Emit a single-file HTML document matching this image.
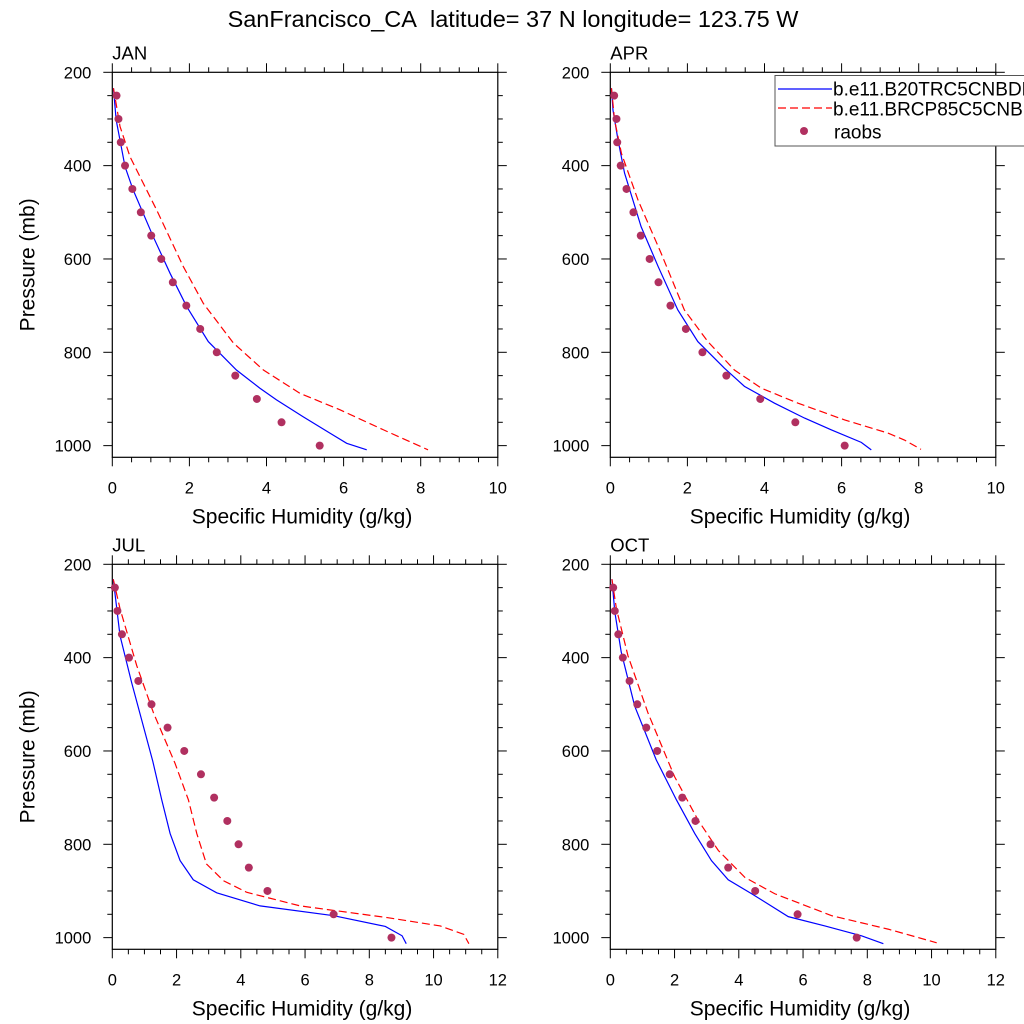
<!DOCTYPE html>
<html><head><meta charset="utf-8"><style>
body{margin:0;background:#fff;width:1024px;height:1024px;overflow:hidden}
svg{display:block;font-family:"Liberation Sans",sans-serif}
</style></head><body>
<svg id="chart" width="1024" height="1024" viewBox="0 0 1024 1024">
<rect width="1024" height="1024" fill="#fff"/>
<text x="513" y="27" font-size="23.5" text-anchor="middle">SanFrancisco_CA&#160; latitude= 37 N longitude= 123.75 W</text>
</svg>
<script>
const levels=[250,300,350,400,450,500,550,600,650,700,750,800,850,900,950,1000];
const janObs=[0.11,0.16,0.22,0.33,0.52,0.74,1.01,1.27,1.57,1.92,2.28,2.71,3.19,3.75,4.39,5.38];
const janBlueQ=[0.03,0.1,0.33,0.54,1.06,1.5,1.93,2.49,3.22,3.83,4.26,4.95,5.64,6.08,6.6];
const janBlueP=[234,302,402,452,552,631,702,777,838,877,902,938,973,995,1009];
const janRedQ=[0.03,0.2,0.46,1.15,1.84,2.36,3.14,3.92,4.87,5.9,7.03,8.19];
const janRedP=[234,316,381,495,616,695,780,838,888,923,966,1009];
const aprObs=[0.1,0.16,0.18,0.27,0.42,0.6,0.79,1.02,1.25,1.56,1.96,2.39,3.01,3.89,4.8,6.08];
const aprBlueQ=[0.03,0.07,0.2,0.37,0.8,1.24,1.75,2.27,2.96,3.48,4.26,5.04,5.73,6.51,6.77];
const aprBlueP=[234,281,345,416,531,616,709,777,834,873,909,941,966,993,1009];
const aprRedQ=[0.03,0.11,0.29,0.72,1.32,1.92,2.53,3.22,3.92,4.87,6.08,7.2,7.63,8.06];
const aprRedP=[234,302,374,474,588,709,777,838,877,909,945,973,988,1008];
const julObs=[0.08,0.16,0.3,0.52,0.81,1.22,1.72,2.24,2.76,3.17,3.58,3.93,4.25,4.83,6.89,8.69];
const julBlueQ=[0.03,0.24,0.6,1.26,1.54,1.8,2.11,2.52,3.25,4.6,6.89,8.5,9.02,9.15];
const julBlueP=[232,353,453,622,705,777,835,876,904,932,953,976,996,1013];
const julRedQ=[0.03,0.24,0.76,1.28,1.95,2.37,2.63,2.93,3.46,4.19,5.85,8.55,10.21,10.94,11.1];
const julRedP=[232,295,417,518,626,705,777,842,878,903,932,957,975,993,1013];
const octObs=[0.09,0.14,0.25,0.39,0.6,0.84,1.12,1.46,1.85,2.24,2.65,3.12,3.67,4.51,5.83,7.67];
const octBlueQ=[0.05,0.14,0.34,0.76,1.43,2.06,2.63,3.15,3.67,4.4,5.54,6.68,7.82,8.5];
const octBlueP=[232,302,388,504,619,705,777,835,876,906,955,975,996,1013];
const octRedQ=[0.05,0.19,0.55,1.17,2.0,2.73,3.36,4.19,5.12,6.89,8.66,10.16];
const octRedP=[232,295,396,518,655,748,813,871,906,953,982,1011];
const yTicks=[200,400,600,800,1000];
const xTicks10=[0,2,4,6,8,10];
const xTicks12=[0,2,4,6,8,10,12];

const NS="http://www.w3.org/2000/svg";
const svg=document.getElementById('chart');
function mk(tag,attrs,parent){const e=document.createElementNS(NS,tag);for(const k in attrs)e.setAttribute(k,attrs[k]);(parent||svg).appendChild(e);return e;}

function panel(name,L,T,xmax,xticks,obs,bq,bp,rq,rp,showY){
  const R=L+385.5,B=T+385;
  const g=mk('g',{});
  
  
  const pmin=200,pmax=1025;
  const xs=v=>L+(R-L)*v/xmax;
  const ys=p=>T+(B-T)*(p-pmin)/(pmax-pmin);
  const fr=mk('rect',{x:L,y:T,width:R-L,height:B-T,fill:'none',stroke:'#000','stroke-width':1.2},g);
  
  
  for(let v=0;v<=xmax+1e-9;v+=0.5){
    const maj=Math.abs(v/2-Math.round(v/2))<1e-9;const len=maj?9:5;const x=xs(v);
    mk('line',{x1:x,y1:B,x2:x,y2:B+len,stroke:'#000','stroke-width':1},g);
    mk('line',{x1:x,y1:T,x2:x,y2:T-len,stroke:'#000','stroke-width':1},g);
  }
  xticks.forEach(v=>{const t=mk('text',{x:xs(v),y:B+36,'font-size':16.5,'text-anchor':'middle'},g);t.textContent=v;
    });
  for(let p=200;p<=1000;p+=50){
    const maj=p%200===0;const len=maj?9:5;const y=ys(p);
    mk('line',{x1:L,y1:y,x2:L-len,y2:y,stroke:'#000','stroke-width':1},g);
    mk('line',{x1:R,y1:y,x2:R+len,y2:y,stroke:'#000','stroke-width':1},g);
  }
  yTicks.forEach(p=>{const t=mk('text',{x:L-21,y:ys(p)+6,'font-size':16.5,'text-anchor':'end'},g);t.textContent=p;
    });
  const lab=mk('text',{x:L,y:T-13,'font-size':18.5},g);lab.textContent=name;
  
  const xl=mk('text',{x:(L+R)/2-3,y:B+66,'font-size':21,'text-anchor':'middle'},g);xl.textContent='Specific Humidity (g/kg)';
  
  if(showY){const yl=mk('text',{x:0,y:0,'font-size':21,'text-anchor':'middle',transform:`translate(${L-78},${(T+B)/2}) rotate(-90)`},g);yl.textContent='Pressure (mb)';
    }
  const bl=mk('polyline',{points:bq.map((q,i)=>xs(q)+','+ys(bp[i])).join(' '),fill:'none',stroke:'#0000ff','stroke-width':1.2},g);
  
  const rl=mk('polyline',{points:rq.map((q,i)=>xs(q)+','+ys(rp[i])).join(' '),fill:'none',stroke:'#ff0000','stroke-width':1.2,'stroke-dasharray':'8,4'},g);
  
  obs.forEach((q,i)=>{const c=mk('circle',{cx:xs(q),cy:ys(levels[i]),r:4,fill:'#b03060'},g);
    });
}
panel('JAN',112.3,72.3,10,xTicks10,janObs,janBlueQ,janBlueP,janRedQ,janRedP,true);
panel('APR',610.3,72.3,10,xTicks10,aprObs,aprBlueQ,aprBlueP,aprRedQ,aprRedP,false);
panel('JUL',112.3,564.3,12,xTicks12,julObs,julBlueQ,julBlueP,julRedQ,julRedP,true);
panel('OCT',610.3,564.3,12,xTicks12,octObs,octBlueQ,octBlueP,octRedQ,octRedP,false);

const lg=mk('g',{});


mk('rect',{x:775,y:75.5,width:260,height:70.5,fill:'#fff',stroke:'#555','stroke-width':1},lg);
mk('line',{x1:778,y1:89,x2:832,y2:89,stroke:'#0000ff','stroke-width':1.2},lg);
mk('line',{x1:778,y1:108,x2:832,y2:108,stroke:'#ff0000','stroke-width':1.2,'stroke-dasharray':'8,4'},lg);
mk('circle',{cx:804,cy:131,r:4,fill:'#b03060'},lg);
const t1=mk('text',{x:833,y:95.5,'font-size':19},lg);t1.textContent='b.e11.B20TRC5CNBDRD';

const t2=mk('text',{x:833,y:115.5,'font-size':19},lg);t2.textContent='b.e11.BRCP85C5CNBDRD';

const t3=mk('text',{x:834,y:138.5,'font-size':19},lg);t3.textContent='raobs';

</script>
</body></html>
